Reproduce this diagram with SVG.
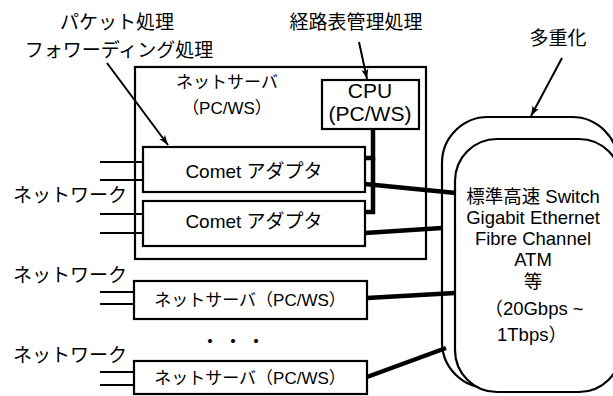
<svg xmlns="http://www.w3.org/2000/svg" width="613" height="396" viewBox="0 0 613 396">
<style>
text{font-family:"Liberation Sans","Noto Sans CJK JP",sans-serif;fill:#000;text-anchor:middle}
.box{fill:#fff;stroke:#000;stroke-width:2.2}
.net{stroke:#000;stroke-width:2.2;fill:none}
.thick{stroke:#000;stroke-width:4.5;fill:none}
.ptr{stroke:#000;stroke-width:2;fill:none;marker-end:url(#ah)}
.f19{font-size:19px}
.f17{font-size:17px}
.sw{font-size:18.5px}
</style>
<defs>
<marker id="ah" markerUnits="userSpaceOnUse" markerWidth="11" markerHeight="8" refX="10" refY="4" orient="auto">
<path d="M0,0.5 L10,4 L0,7.5 L2.5,4 z" fill="#000"/>
</marker>
</defs>

<g id="labels">
<text class="f19" x="117" y="29">パケット処理</text>
<text class="f19" x="119" y="57">フォワーディング処理</text>
<text class="f19" x="356" y="29">経路表管理処理</text>
<text class="f19" x="558" y="45">多重化</text>
<text class="f19" x="70" y="202">ネットワーク</text>
<text class="f19" x="70" y="282">ネットワーク</text>
<text class="f19" x="70" y="362">ネットワーク</text>
<text class="f19" x="210 233 256" y="349">・・・</text>
</g>

<g id="switch">
<rect x="442" y="117" width="176" height="271" rx="46" class="box" stroke-width="2.6"/>
<rect x="455" y="139" width="166" height="253" rx="42" class="box" stroke-width="2.6"/>
<text class="sw" x="533" y="203">標準高速 Switch</text>
<text class="sw" x="533" y="224">Gigabit Ethernet</text>
<text class="sw" x="533" y="245">Fibre Channel</text>
<text class="sw" x="533" y="266">ATM</text>
<text class="sw" x="533" y="288">等</text>
<text class="sw" x="534" y="315">（20Gbps ~</text>
<text class="sw" x="532" y="341">1Tbps）</text>
</g>

<g id="netserver">
<rect x="135" y="67" width="291" height="192" class="box"/>
<text class="f17" x="227" y="88">ネットサーバ</text>
<text class="f17" x="227" y="114">（PC/WS）</text>
</g>

<g id="cpu">
<rect x="322" y="80" width="97" height="49" class="box" stroke-width="2.5"/>
<text x="370" y="98" style="font-size:21px">CPU</text>
<text x="370" y="121" style="font-size:21px">(PC/WS)</text>
</g>

<g id="comet1">
<rect x="143" y="147" width="222" height="45" class="box" stroke-width="2.5"/>
<text class="f19" x="254" y="178">Comet アダプタ</text>
</g>

<g id="comet2">
<rect x="143" y="201" width="222" height="45" class="box" stroke-width="2.5"/>
<text class="f19" x="254" y="228">Comet アダプタ</text>
</g>

<g id="server2">
<rect x="134" y="281" width="233" height="38" class="box" stroke-width="2.5"/>
<text class="f17" x="250" y="306">ネットサーバ（PC/WS）</text>
</g>

<g id="server3">
<rect x="134" y="361" width="233" height="33" class="box" stroke-width="2.5"/>
<text class="f17" x="250" y="384">ネットサーバ（PC/WS）</text>
</g>

<g id="connectors">
<line class="net" x1="100" y1="162" x2="143" y2="162"/>
<line class="net" x1="100" y1="180" x2="143" y2="180"/>
<line class="net" x1="100" y1="214" x2="143" y2="214"/>
<line class="net" x1="100" y1="233" x2="143" y2="233"/>
<line class="net" x1="100" y1="292" x2="134" y2="292"/>
<line class="net" x1="100" y1="304" x2="134" y2="304"/>
<line class="net" x1="100" y1="372" x2="134" y2="372"/>
<line class="net" x1="100" y1="385" x2="134" y2="385"/>
<polyline class="thick" stroke-width="4" points="365,158 373,158 373,129"/>
<polyline class="thick" stroke-width="4" points="365,212 373,212 373,158"/>
<line class="thick" x1="365" y1="184" x2="456" y2="193"/>
<line class="thick" x1="365" y1="233" x2="442" y2="228"/>
<line class="thick" x1="367" y1="298" x2="455" y2="293"/>
<line class="thick" x1="367" y1="377" x2="446" y2="348"/>
<line class="ptr" x1="107" y1="63" x2="168" y2="145"/>
<line class="ptr" x1="359" y1="42" x2="367" y2="79"/>
<line class="ptr" x1="562" y1="58" x2="531" y2="116"/>
</g>
</svg>
